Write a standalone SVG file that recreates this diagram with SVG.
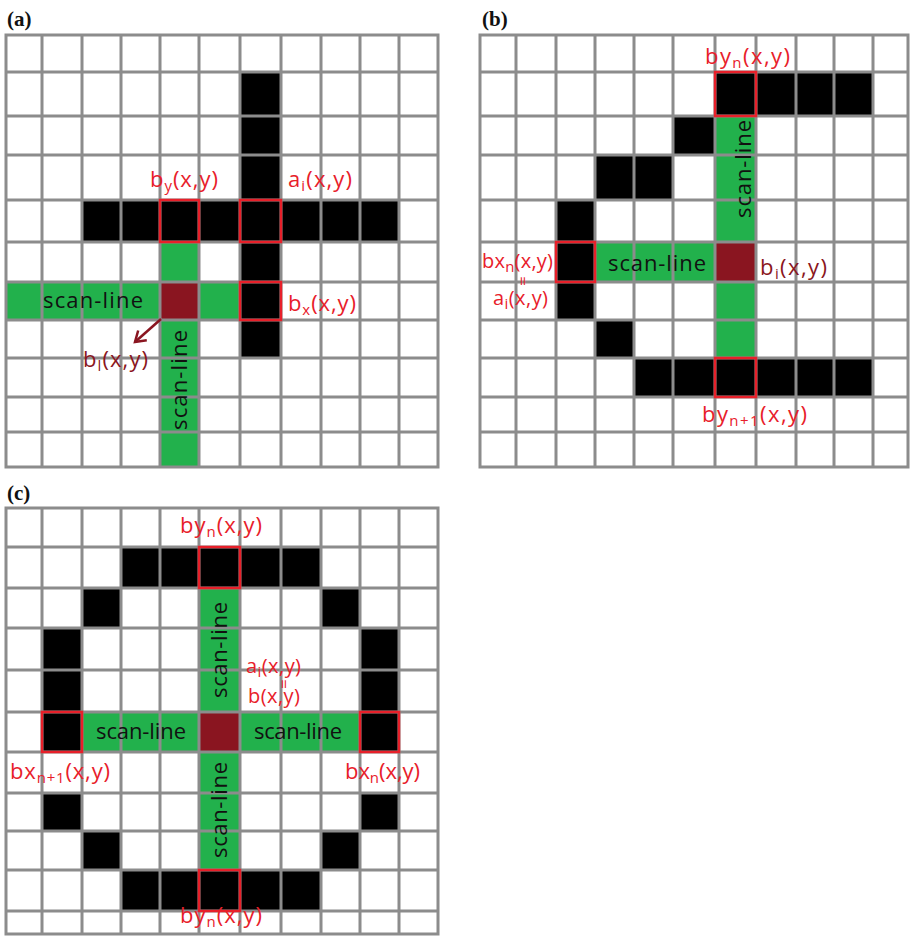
<svg xmlns="http://www.w3.org/2000/svg" width="910" height="936" viewBox="0 0 910 936">
<style>
.grid{stroke:#8c8c8c;stroke-width:3;fill:none;stroke-linecap:square}
.blk{fill:#000}
.grn{fill:#22b14c}
.drd{fill:#8a1520}
.rbox{fill:none;stroke:#e8202a;stroke-width:2.5}
.lbl{font-family:"Open Sans","Noto Sans",sans-serif;font-size:22px;fill:#e8202a}
.sm{font-size:20px}
.dlb{font-family:"Open Sans","Noto Sans",sans-serif;font-size:22px;fill:#8a1520}
.sl{font-family:"Open Sans","Noto Sans",sans-serif;font-size:22px;fill:#111;text-anchor:middle}
.ttl{font-family:"Liberation Serif",serif;font-weight:bold;font-size:21px;fill:#111}
.sub{font-size:15px}
.eq{font-family:"Open Sans","Noto Sans",sans-serif;font-size:17px;fill:#e8202a;text-anchor:middle}
.arr{stroke:#8a1520;stroke-width:2.5;fill:none}
</style>
<defs>
<marker id="chev" markerUnits="userSpaceOnUse" markerWidth="16" markerHeight="16" refX="10" refY="6.5" orient="auto" overflow="visible">
<path d="M0,0 L10,6.5 L0,13" fill="none" stroke="#8a1520" stroke-width="2.5"/>
</marker>
</defs>
<rect width="910" height="936" fill="#fff"/>

<g id="panel-a">
<text class="ttl" x="7" y="26">(a)</text>
<rect class="blk" x="240" y="72" width="41" height="286"/>
<rect class="blk" x="82" y="200" width="317" height="42"/>
<rect class="grn" x="6" y="282" width="234" height="38"/>
<rect class="grn" x="160" y="242" width="39" height="225"/>
<rect class="drd" x="160" y="282" width="39" height="38"/>
<path class="grid" d="M6 35V467M42 35V467M82 35V467M121 35V467M160 35V467M199 35V467M240 35V467M281 35V467M321 35V467M360 35V467M399 35V467M438 35V467M6 35H438M6 72H438M6 116H438M6 155H438M6 200H438M6 242H438M6 282H438M6 320H438M6 358H438M6 397H438M6 432H438M6 467H438"/>
<rect class="rbox" x="160" y="200" width="39" height="42"/>
<rect class="rbox" x="240" y="200" width="41" height="42"/>
<rect class="rbox" x="240" y="282" width="41" height="38"/>
<text class="lbl" x="150" y="187" textLength="68">b<tspan class="sub" dy="4">y</tspan><tspan dy="-4">(x,y)</tspan></text>
<text class="lbl" x="288" y="187" textLength="64">a<tspan class="sub" dy="4">i</tspan><tspan dy="-4">(x,y)</tspan></text>
<text class="lbl" x="288" y="311" textLength="68">b<tspan class="sub" dy="4">x</tspan><tspan dy="-4">(x,y)</tspan></text>
<text class="sl" x="93" y="308" textLength="100">scan-line</text>
<text class="sl" transform="translate(187,380) rotate(-90)" textLength="100">scan-line</text>
<text class="dlb" x="83" y="367" textLength="65">b<tspan class="sub" dy="4">l</tspan><tspan dy="-4">(x,y)</tspan></text>
</g>

<g id="panel-b">
<text class="ttl" x="482" y="26">(b)</text>
<rect class="blk" x="715" y="72" width="158" height="44"/>
<rect class="blk" x="673" y="116" width="42" height="39"/>
<rect class="blk" x="595" y="155" width="78" height="45"/>
<rect class="blk" x="556" y="200" width="39" height="120"/>
<rect class="blk" x="595" y="320" width="39" height="38"/>
<rect class="blk" x="634" y="358" width="239" height="39"/>
<rect class="grn" x="715" y="116" width="41" height="242"/>
<rect class="grn" x="595" y="242" width="120" height="40"/>
<rect class="drd" x="715" y="242" width="41" height="40"/>
<path class="grid" d="M480 35V467M516 35V467M556 35V467M595 35V467M634 35V467M673 35V467M715 35V467M756 35V467M796 35V467M834 35V467M873 35V467M908 35V467M480 35H908M480 72H908M480 116H908M480 155H908M480 200H908M480 242H908M480 282H908M480 320H908M480 358H908M480 397H908M480 432H908M480 467H908"/>
<rect class="rbox" x="715" y="72" width="41" height="44"/>
<rect class="rbox" x="556" y="242" width="39" height="40"/>
<rect class="rbox" x="715" y="358" width="41" height="39"/>
<text class="lbl" x="705" y="64" textLength="85">by<tspan class="sub" dy="4">n</tspan><tspan dy="-4">(x,y)</tspan></text>
<text class="sl" transform="translate(751,169) rotate(-90)" textLength="98">scan-line</text>
<text class="sl" x="657" y="271" textLength="98">scan-line</text>
<text class="dlb" x="760" y="275" textLength="67">b<tspan class="sub" dy="4">i</tspan><tspan dy="-4">(x,y)</tspan></text>
<text class="lbl sm" x="482" y="268" textLength="71">bx<tspan class="sub" dy="4">n</tspan><tspan dy="-4">(x,y)</tspan></text>
<text class="eq" transform="translate(517,281) rotate(90)">=</text>
<text class="lbl sm" x="493" y="305" textLength="55">a<tspan class="sub" dy="4">i</tspan><tspan dy="-4">(x,y)</tspan></text>
<text class="lbl" x="702" y="422" textLength="105">by<tspan class="sub" dy="4">n+1</tspan><tspan dy="-4">(x,y)</tspan></text>
</g>

<g id="panel-c">
<text class="ttl" x="7" y="500">(c)</text>
<rect class="blk" x="121" y="547" width="200" height="41"/>
<rect class="blk" x="82" y="588" width="39" height="40"/>
<rect class="blk" x="321" y="588" width="39" height="40"/>
<rect class="blk" x="42" y="628" width="40" height="124"/>
<rect class="blk" x="360" y="628" width="39" height="124"/>
<rect class="blk" x="42" y="793" width="40" height="38"/>
<rect class="blk" x="360" y="793" width="39" height="38"/>
<rect class="blk" x="82" y="831" width="39" height="39"/>
<rect class="blk" x="321" y="831" width="39" height="39"/>
<rect class="blk" x="121" y="870" width="200" height="41"/>
<rect class="grn" x="199" y="588" width="41" height="282"/>
<rect class="grn" x="82" y="712" width="278" height="40"/>
<rect class="drd" x="199" y="712" width="41" height="40"/>
<path class="grid" d="M6 508V934M42 508V934M82 508V934M121 508V934M160 508V934M199 508V934M240 508V934M281 508V934M321 508V934M360 508V934M399 508V934M438 508V934M6 508H438M6 547H438M6 588H438M6 628H438M6 670H438M6 712H438M6 752H438M6 793H438M6 831H438M6 870H438M6 911H438M6 934H438"/>
<rect class="rbox" x="199" y="547" width="41" height="41"/>
<rect class="rbox" x="42" y="712" width="40" height="40"/>
<rect class="rbox" x="360" y="712" width="39" height="40"/>
<rect class="rbox" x="199" y="870" width="41" height="41"/>
<text class="lbl" x="180" y="533" textLength="82">by<tspan class="sub" dy="4">n</tspan><tspan dy="-4">(x,y)</tspan></text>
<text class="sl" transform="translate(227,650) rotate(-90)" textLength="96">scan-line</text>
<text class="sl" transform="translate(227,810) rotate(-90)" textLength="96">scan-line</text>
<text class="sl" x="141" y="739" textLength="90">scan-line</text>
<text class="sl" x="298" y="739" textLength="88">scan-line</text>
<text class="lbl sm" x="246" y="673" textLength="55">a<tspan class="sub" dy="4">i</tspan><tspan dy="-4">(x,y)</tspan></text>
<text class="eq" transform="translate(278,684) rotate(90)">=</text>
<text class="lbl sm" x="248" y="703" textLength="52">b(x,y)</text>
<text class="lbl" x="10" y="779" textLength="100">bx<tspan class="sub" dy="4">n+1</tspan><tspan dy="-4">(x,y)</tspan></text>
<text class="lbl" x="345" y="779" textLength="75">bx<tspan class="sub" dy="4">n</tspan><tspan dy="-4">(x,y)</tspan></text>
<text class="lbl" x="180" y="923" textLength="82">by<tspan class="sub" dy="4">n</tspan><tspan dy="-4">(x,y)</tspan></text>
</g>

<g id="connectors">
<line class="arr" x1="161" y1="319" x2="135" y2="342" marker-end="url(#chev)"/>
</g>
</svg>
